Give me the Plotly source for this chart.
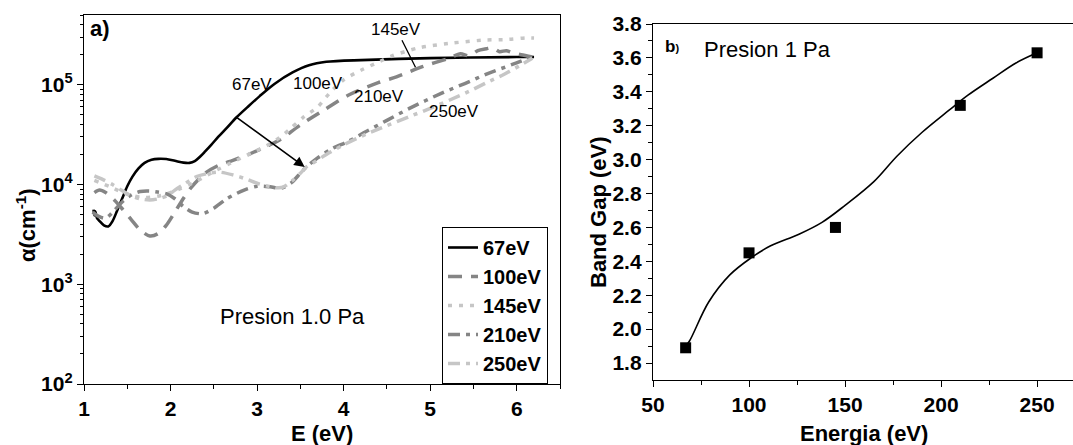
import numpy as np
import plotly.graph_objects as go

# ---- panel a): absorption coefficient vs photon energy ----
e_67 = [1.11, 1.12, 1.13, 1.15, 1.18, 1.23, 1.28, 1.33, 1.38, 1.44, 1.50, 1.56, 1.63, 1.70,
        1.78, 1.86, 1.95, 2.05, 2.15, 2.22, 2.28, 2.34, 2.40, 2.47, 2.55, 2.65, 2.76, 2.90,
        3.03, 3.20, 3.41, 3.60, 3.80, 4.20, 5.00, 6.00, 6.20]
a_67 = [5.6e3, 4.9e3, 5.4e3, 4.6e3, 4.3e3, 3.9e3, 3.8e3, 4.3e3, 5.4e3, 7.2e3, 9.6e3, 1.2e4,
        1.45e4, 1.65e4, 1.77e4, 1.81e4, 1.8e4, 1.73e4, 1.66e4, 1.65e4, 1.72e4, 1.9e4, 2.15e4,
        2.5e4, 3.0e4, 3.7e4, 4.7e4, 6.1e4, 7.7e4, 1.02e5, 1.33e5, 1.57e5, 1.7e5, 1.77e5,
        1.85e5, 1.9e5, 1.9e5]

e_100 = [1.12, 1.18, 1.25, 1.35, 1.45, 1.55, 1.65, 1.76, 1.85, 1.95, 2.05, 2.15, 2.25, 2.40,
         2.55, 2.72, 2.90, 3.10, 3.26, 3.49, 3.76, 4.07, 4.40, 4.61, 4.91, 5.22, 5.35, 5.45,
         5.55, 5.65, 5.72, 5.80, 5.88, 5.95, 6.05, 6.18]
a_100 = [8.3e3, 8.8e3, 8.3e3, 7.0e3, 5.6e3, 4.4e3, 3.5e3, 3.05e3, 3.2e3, 3.9e3, 5.3e3, 7.3e3,
         9.6e3, 1.3e4, 1.55e4, 1.75e4, 2.0e4, 2.4e4, 2.8e4, 3.9e4, 5.5e4, 8.0e4, 1.05e5,
         1.2e5, 1.52e5, 1.85e5, 2.05e5, 1.95e5, 2.2e5, 2.3e5, 2.35e5, 2.15e5, 2.2e5, 2.1e5,
         2.0e5, 1.9e5]

e_145 = [1.12, 1.30, 1.50, 1.70, 1.90, 2.10, 2.30, 2.50, 2.70, 2.95, 3.11, 3.26, 3.38, 3.53,
         3.70, 3.85, 4.00, 4.20, 4.41, 4.56, 4.87, 5.22, 5.60, 5.90, 6.10, 6.20]
a_145 = [1.1e4, 9.5e3, 8.0e3, 7.4e3, 7.8e3, 9.0e3, 1.08e4, 1.35e4, 1.65e4, 2.1e4, 2.45e4,
         2.95e4, 3.6e4, 4.7e4, 6.0e4, 8.5e4, 1.12e5, 1.4e5, 1.7e5, 1.95e5, 2.35e5, 2.6e5,
         2.8e5, 2.85e5, 2.95e5, 2.95e5]

e_210 = [1.10, 1.17, 1.25, 1.35, 1.45, 1.55, 1.65, 1.75, 1.85, 1.95, 2.05, 2.15, 2.25, 2.37,
         2.50, 2.65, 2.85, 3.00, 3.15, 3.28, 3.40, 3.50, 3.57, 3.70, 3.87, 4.05, 4.26, 4.50,
         4.76, 5.14, 5.40, 5.65, 5.99, 6.20]
a_210 = [5.3e3, 4.8e3, 4.6e3, 5.5e3, 6.8e3, 7.9e3, 8.5e3, 8.6e3, 8.4e3, 8.1e3, 7.2e3, 6.0e3,
         5.3e3, 5.1e3, 5.8e3, 7.2e3, 8.8e3, 9.6e3, 9.5e3, 9.2e3, 1.05e4, 1.3e4, 1.5e4, 1.85e4,
         2.3e4, 2.7e4, 3.4e4, 4.4e4, 5.8e4, 8.3e4, 1.03e5, 1.28e5, 1.65e5, 1.95e5]

e_250 = [1.12, 1.22, 1.33, 1.43, 1.53, 1.65, 1.76, 1.86, 1.96, 2.05, 2.15, 2.30, 2.45, 2.57,
         2.72, 2.88, 3.00, 3.11, 3.22, 3.30, 3.41, 3.50, 3.57, 3.65, 3.80, 4.00, 4.26, 4.50,
         4.76, 5.00, 5.22, 5.45, 5.65, 5.85, 6.03, 6.18]
a_250 = [1.22e4, 1.12e4, 1.0e4, 8.8e3, 7.8e3, 7.2e3, 7.0e3, 7.2e3, 7.7e3, 8.8e3, 1.0e4, 1.2e4,
         1.3e4, 1.33e4, 1.25e4, 1.13e4, 1.03e4, 9.7e3, 9.3e3, 9.4e3, 1.1e4, 1.3e4, 1.5e4,
         1.65e4, 2.0e4, 2.5e4, 3.2e4, 3.9e4, 4.8e4, 5.8e4, 7.0e4, 8.6e4, 1.05e5, 1.27e5,
         1.55e5, 1.85e5]

series_names = ["67eV", "100eV", "145eV", "210eV", "250eV"]
series_e = [e_67, e_100, e_145, e_210, e_250]
series_a = [a_67, a_100, a_145, a_210, a_250]

# ---- panel b): band gap vs ion energy ----
energia = [67, 100, 145, 210, 250]
band_gap = [1.89, 2.45, 2.60, 3.32, 3.63]
fit_energia = [67, 69, 79, 90, 101, 111, 126, 138, 150, 165, 177, 190, 204, 214, 227, 239, 250]
fit_gap = [1.90, 1.93, 2.16, 2.32, 2.42, 2.49, 2.56, 2.63, 2.73, 2.87, 3.02, 3.16, 3.29,
           3.38, 3.48, 3.57, 3.63]

# y tick labels of the log axis
log_tick_vals = [1e2, 1e3, 1e4, 1e5]
log_tick_text = ["10<sup>2</sup>", "10<sup>3</sup>", "10<sup>4</sup>", "10<sup>5</sup>"]

FONT = "Liberation Sans, Arial, sans-serif"
styles = [
    dict(color="#000000", width=2.6, dash="solid"),
    dict(color="#858585", width=3.5, dash="14px,9px"),
    dict(color="#c6c6c6", width=3.5, dash="4px,7px"),
    dict(color="#858585", width=3.5, dash="12px,6px,4px,6px"),
    dict(color="#c6c6c6", width=3.5, dash="12px,6px,4px,6px"),
]

fig = go.Figure()
for name, ex, ay, st in zip(series_names, series_e, series_a, styles):
    fig.add_trace(go.Scatter(x=ex, y=ay, name=name, mode="lines",
                             line=dict(shape="spline", smoothing=0.8, **st),
                             xaxis="x", yaxis="y"))

fig.add_trace(go.Scatter(x=fit_energia, y=fit_gap, mode="lines", showlegend=False,
                         line=dict(color="black", width=1.6, shape="spline", smoothing=1.0),
                         xaxis="x2", yaxis="y2"))
fig.add_trace(go.Scatter(x=energia, y=band_gap, mode="markers", showlegend=False,
                         marker=dict(symbol="square", size=11, color="black"),
                         xaxis="x2", yaxis="y2"))

W, H = 1073, 445
def fx(px):
    return px / W
def fy(py):
    return (H - py) / H

tickfont = dict(family=FONT, size=21, color="black", weight="bold")
titlefont = dict(family=FONT, size=22, color="black", weight="bold")
axis_common = dict(showline=True, linecolor="black", linewidth=1.3, ticks="outside",
                   ticklen=6, tickwidth=1.3, tickcolor="black", showgrid=False,
                   zeroline=False, tickfont=tickfont, automargin=False, ticklabelstandoff=0)

minor_log = [m * 10 ** d for d in range(2, 6) for m in range(2, 10)]

fig.update_layout(
    width=W, height=H, margin=dict(l=0, r=0, t=0, b=0),
    paper_bgcolor="white", plot_bgcolor="white",
    font=dict(family=FONT, color="black"),
    xaxis=dict(domain=[fx(84), fx(560)], range=[1, 6.5], anchor="y", mirror=True,
               tickvals=[1, 2, 3, 4, 5, 6],
               minor=dict(tickvals=[1.5, 2.5, 3.5, 4.5, 5.5, 6.5], ticks="outside",
                          ticklen=4, tickwidth=1.2, tickcolor="black"),
               **axis_common),
    yaxis=dict(domain=[fy(384), fy(15)], type="log", range=[2, 5.70], anchor="x",
               mirror=True, tickvals=log_tick_vals, ticktext=log_tick_text,
               minor=dict(tickvals=minor_log, ticks="outside", ticklen=3, tickwidth=1.1,
                          tickcolor="black"),
               **axis_common),
    xaxis2=dict(domain=[fx(653), 1.0], range=[50, 268.7], anchor="y2", mirror=True,
                tickvals=[50, 100, 150, 200, 250],
                minor=dict(tickvals=[75, 125, 175, 225], ticks="outside", ticklen=4,
                           tickwidth=1.2, tickcolor="black"),
                **axis_common),
    yaxis2=dict(domain=[fy(380), fy(24)], range=[1.7, 3.8], anchor="x2",
                tickvals=[1.8, 2.0, 2.2, 2.4, 2.6, 2.8, 3.0, 3.2, 3.4, 3.6, 3.8],
                tickformat=".1f",
                minor=dict(tickvals=[1.9, 2.1, 2.3, 2.5, 2.7, 2.9, 3.1, 3.3, 3.5, 3.7],
                           ticks="outside", ticklen=4, tickwidth=1.2, tickcolor="black"),
                **axis_common),
    legend=dict(x=fx(548), y=fy(384), xanchor="right", yanchor="bottom",
                bordercolor="black", borderwidth=1, bgcolor="white",
                font=dict(family=FONT, size=20, color="black", weight="bold"),
                tracegroupgap=0, itemwidth=30),
)

# axis titles
centered = dict(xref="paper", yref="paper", showarrow=False, xanchor="center",
                yanchor="middle", font=titlefont)
fig.add_annotation(x=fx(322), y=fy(433), text="E (eV)", **centered)
fig.add_annotation(x=fx(864), y=fy(433), text="Energia (eV)", **centered)
fig.add_annotation(x=fx(26), y=fy(225), text="α(cm<sup>-1</sup>)", textangle=-90,
                   **centered)
fig.add_annotation(x=fx(598), y=fy(212), text="Band Gap (eV)", textangle=-90, **centered)

lab = dict(family=FONT, size=17, color="black")
# series labels on panel a)
curve_labels = [("67eV", 2.94, 1.0e5), ("100eV", 3.70, 1.02e5), ("210eV", 4.41, 7.6e4),
                ("250eV", 5.28, 5.4e4)]
for txt, xv, yv in curve_labels:
    fig.add_annotation(x=xv, y=np.log10(yv), xref="x", yref="y", text=txt,
                       showarrow=False, font=lab)

# 145eV label with pointer line
fig.add_annotation(x=4.83, y=np.log10(1.5e5), ax=4.61, ay=np.log10(3.6e5), axref="x",
                   ayref="y", xref="x", yref="y", text="145eV", font=lab, showarrow=True,
                   arrowhead=0, arrowwidth=1.3, arrowcolor="black")
# trend arrow from 67eV toward higher energies
fig.add_annotation(x=3.55, y=np.log10(1.5e4), ax=2.75, ay=np.log10(4.8e4), axref="x",
                   ayref="y", xref="x", yref="y", text="", showarrow=True, arrowhead=2,
                   arrowsize=1.3, arrowwidth=1.6, arrowcolor="black", standoff=0)

fig.add_annotation(x=1.05, y=np.log10(3.7e5), xref="x", yref="y", text="a)",
                   showarrow=False, xanchor="left",
                   font=dict(family=FONT, size=22, color="black", weight="bold"))
fig.add_annotation(x=3.41, y=np.log10(470), xref="x", yref="y", text="Presion 1.0 Pa",
                   showarrow=False, font=dict(family=FONT, size=22, color="black"))
fig.add_annotation(x=55, y=3.665, xref="x2", yref="y2", text="b<span style='font-size:11px'>)</span>",
                   showarrow=False, xanchor="left",
                   font=dict(family=FONT, size=17, color="black", weight="bold"))
fig.add_annotation(x=109.5, y=3.65, xref="x2", yref="y2", text="Presion 1 Pa",
                   showarrow=False, font=dict(family=FONT, size=22, color="black"))

fig.write_html("out.html")
